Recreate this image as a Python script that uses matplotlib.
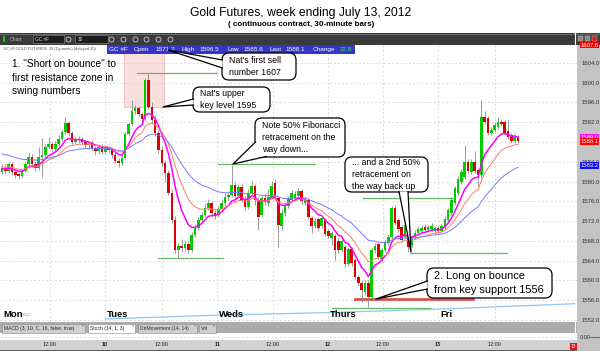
import numpy as np
import matplotlib.pyplot as plt
from matplotlib.patches import Rectangle, FancyBboxPatch, Polygon
from matplotlib.transforms import blended_transform_factory

plt.rcParams['font.family'] = ['Liberation Sans', 'DejaVu Sans']

# 30-minute bars, Mon Jul 9 -> Fri Jul 13 2012
opens = [1582.0, 1582.8, 1582.2, 1583.6, 1581.9, 1581.4, 1581.2, 1582.2, 1583.5, 1585.0,
         1583.6, 1582.8, 1585.0, 1585.3, 1587.0, 1587.6, 1586.6, 1587.5, 1588.6, 1590.0,
         1591.9, 1589.8, 1588.0, 1588.3, 1588.6, 1587.9, 1587.3, 1587.6, 1586.7, 1586.1,
         1586.9, 1586.0, 1586.8, 1586.3, 1585.4, 1584.2, 1583.8, 1584.8, 1589.6, 1591.6,
         1594.2, 1594.8, 1593.6, 1592.6, 1600.6, 1595.0, 1592.4, 1589.8, 1586.4, 1583.7,
         1581.7, 1577.7, 1572.2, 1566.1, 1567.0, 1566.6, 1567.4, 1566.2, 1569.2, 1570.6,
         1572.2, 1573.2, 1574.6, 1575.6, 1573.6, 1573.2, 1574.4, 1575.6, 1576.9, 1577.2,
         1579.3, 1577.0, 1578.8, 1576.3, 1574.8, 1577.6, 1579.0, 1576.2, 1573.2, 1576.6,
         1575.6, 1576.8, 1579.8, 1576.6, 1571.0, 1573.6, 1575.0, 1576.2, 1576.6, 1577.0,
         1578.0, 1575.6, 1576.2, 1572.6, 1571.0, 1572.4, 1571.0, 1572.2, 1570.0, 1568.6,
         1569.0, 1568.0, 1566.2, 1566.8, 1563.4, 1566.4, 1564.1, 1560.7, 1559.5, 1557.6,
         1559.5, 1556.6, 1566.1, 1567.4, 1564.4, 1566.2, 1567.6, 1568.8, 1574.6, 1572.2,
         1570.8, 1568.8, 1568.8, 1567.2, 1568.8, 1569.6, 1570.0, 1570.8, 1570.2, 1570.4,
         1570.0, 1570.6, 1570.0, 1570.6, 1572.2, 1573.6, 1575.6, 1577.6, 1580.0, 1581.0,
         1584.0, 1582.0, 1584.0, 1582.4, 1581.3, 1593.0, 1592.8, 1589.8, 1590.4, 1591.0,
         1592.0, 1592.0, 1590.2, 1589.4, 1588.2, 1589.0]
highs = [1583.5, 1583.6, 1584.0, 1584.0, 1582.3, 1581.9, 1582.5, 1583.9, 1586.0, 1585.6,
         1584.2, 1587.0, 1588.8, 1587.5, 1589.0, 1588.0, 1588.2, 1589.5, 1590.6, 1593.0,
         1592.2, 1590.2, 1588.9, 1589.2, 1589.0, 1588.3, 1588.0, 1588.4, 1587.2, 1587.3,
         1587.6, 1587.3, 1587.2, 1586.7, 1585.9, 1584.8, 1585.3, 1590.0, 1592.0, 1596.4,
         1595.5, 1595.3, 1594.0, 1601.0, 1602.0, 1596.0, 1593.4, 1590.6, 1587.2, 1584.4,
         1582.4, 1578.4, 1573.0, 1567.6, 1568.4, 1568.2, 1568.0, 1569.8, 1571.2, 1572.8,
         1573.8, 1575.6, 1576.4, 1576.0, 1574.2, 1575.0, 1576.4, 1577.6, 1578.0, 1583.4,
         1580.0, 1579.6, 1579.4, 1577.0, 1578.4, 1580.2, 1579.5, 1576.8, 1577.0, 1577.4,
         1578.4, 1580.2, 1580.6, 1577.0, 1574.4, 1575.6, 1577.0, 1578.2, 1578.0, 1578.6,
         1578.4, 1576.8, 1576.6, 1573.0, 1572.6, 1572.8, 1573.0, 1572.6, 1570.4, 1570.0,
         1569.4, 1568.6, 1568.4, 1567.2, 1566.8, 1566.8, 1564.6, 1561.2, 1560.0, 1560.0,
         1560.0, 1566.6, 1567.6, 1567.8, 1566.6, 1568.4, 1569.4, 1575.0, 1575.2, 1572.6,
         1571.2, 1571.8, 1569.4, 1569.2, 1570.2, 1571.0, 1571.2, 1571.4, 1571.2, 1571.6,
         1571.0, 1571.0, 1571.4, 1573.0, 1574.6, 1576.8, 1579.0, 1581.2, 1582.6, 1587.4,
         1584.6, 1584.6, 1586.2, 1582.8, 1596.5, 1594.2, 1593.2, 1591.0, 1592.0, 1593.0,
         1592.6, 1592.4, 1592.5, 1589.8, 1589.6, 1589.4]
lows = [1581.5, 1581.6, 1581.8, 1581.4, 1580.7, 1580.6, 1580.8, 1581.9, 1583.2, 1583.0,
        1582.2, 1582.4, 1581.0, 1584.8, 1586.5, 1586.0, 1586.2, 1587.2, 1588.2, 1589.6,
        1589.2, 1587.6, 1587.5, 1587.8, 1587.5, 1586.8, 1586.6, 1586.2, 1585.4, 1585.6,
        1585.5, 1585.6, 1585.8, 1584.8, 1583.8, 1583.0, 1583.4, 1584.5, 1589.2, 1591.2,
        1593.6, 1593.0, 1592.0, 1592.2, 1594.6, 1591.8, 1589.2, 1585.8, 1583.2, 1580.0,
        1577.2, 1571.6, 1565.5, 1564.5, 1565.8, 1566.0, 1565.6, 1565.8, 1568.8, 1570.2,
        1571.8, 1572.8, 1574.2, 1573.0, 1572.4, 1572.8, 1574.0, 1574.8, 1576.0, 1576.8,
        1576.4, 1576.6, 1575.8, 1574.2, 1574.4, 1577.2, 1575.2, 1570.2, 1572.8, 1575.2,
        1575.0, 1576.4, 1576.2, 1566.8, 1570.2, 1573.0, 1574.6, 1575.8, 1576.0, 1576.6,
        1575.4, 1575.2, 1572.4, 1569.6, 1570.6, 1570.0, 1570.6, 1569.0, 1568.6, 1567.2,
        1564.2, 1565.6, 1565.8, 1562.8, 1563.0, 1563.0, 1560.2, 1558.8, 1555.6, 1557.0,
        1554.6, 1556.2, 1565.6, 1564.4, 1563.8, 1565.8, 1567.2, 1568.4, 1571.2, 1569.8,
        1567.8, 1568.4, 1565.8, 1566.8, 1568.4, 1569.2, 1569.6, 1569.8, 1569.8, 1570.0,
        1569.4, 1569.6, 1569.6, 1570.2, 1571.8, 1573.2, 1575.2, 1577.2, 1579.6, 1580.6,
        1581.8, 1581.6, 1581.8, 1579.0, 1580.8, 1591.6, 1589.4, 1589.4, 1590.0, 1590.6,
        1591.2, 1589.4, 1588.6, 1587.8, 1587.8, 1587.8]
closes = [1582.8, 1582.2, 1583.6, 1581.9, 1581.4, 1581.2, 1582.2, 1583.5, 1585.0, 1583.6,
          1582.8, 1585.0, 1585.3, 1587.0, 1587.6, 1586.6, 1587.5, 1588.6, 1590.0, 1591.9,
          1589.8, 1588.0, 1588.3, 1588.6, 1587.9, 1587.3, 1587.6, 1586.7, 1586.1, 1586.9,
          1586.0, 1586.8, 1586.3, 1585.4, 1584.2, 1583.8, 1584.8, 1589.6, 1591.6, 1594.2,
          1594.8, 1593.6, 1592.6, 1600.6, 1595.0, 1592.4, 1589.8, 1586.4, 1583.7, 1581.7,
          1577.7, 1572.2, 1566.1, 1567.0, 1566.6, 1567.4, 1566.2, 1569.2, 1570.6, 1572.2,
          1573.2, 1574.6, 1575.6, 1573.6, 1573.2, 1574.4, 1575.6, 1576.9, 1577.2, 1579.3,
          1577.0, 1578.8, 1576.3, 1574.8, 1577.6, 1579.0, 1576.2, 1572.8, 1576.6, 1575.8,
          1576.8, 1579.0, 1577.0, 1571.2, 1573.6, 1575.2, 1576.4, 1577.6, 1577.4, 1578.0,
          1576.0, 1576.2, 1572.8, 1571.0, 1572.0, 1570.6, 1572.6, 1569.4, 1569.0, 1569.6,
          1566.2, 1566.2, 1568.0, 1563.4, 1566.4, 1563.5, 1560.7, 1559.5, 1558.1, 1559.5,
          1556.6, 1566.1, 1567.0, 1564.8, 1566.2, 1567.6, 1568.8, 1574.6, 1571.6, 1570.4,
          1568.2, 1571.2, 1566.8, 1568.8, 1569.6, 1570.4, 1570.6, 1570.2, 1570.8, 1571.0,
          1570.6, 1570.0, 1571.0, 1572.4, 1574.2, 1576.2, 1578.6, 1580.6, 1582.0, 1584.0,
          1582.2, 1584.0, 1582.2, 1581.3, 1593.0, 1592.0, 1589.8, 1590.4, 1591.4, 1592.0,
          1591.6, 1589.8, 1589.0, 1588.2, 1589.0, 1588.1]

day_names = ['Mon', 'Tues', 'Weds', 'Thurs', 'Fri']
day_starts = [-0.3, 30.9, 64.6, 97.9, 130.9]      # bar index where each session begins
date_labels = ['10', '11', '12', '13']
noon_bars = [14.4, 48.0, 81.4, 114.4, 148.0]

# moving averages (fast / medium / slow) with their starting values
ma_spans = [8, 15, 32]
ma_seeds = [1582.5, 1583.0, 1585.8]
ma_colors = ['#ff00ff', '#ff7b6b', '#7a7aff']

# lines drawn by hand on the chart: (price, first bar, last bar)
green_levels = [(1601.9, 40.5, 64.6), (1583.5, 65.0, 94.0), (1564.5, 47.0, 66.4),
                (1576.7, 108.4, 136.0), (1565.5, 122.5, 151.7), (1554.4, 99.1, 128.5)]
support_level = (1556.2, 106.0, 141.5)
resist_zone = (36.6, 48.6, 1595.0, 1608.0)

# lower study line showing through the bottom of the price pane
study_bars = [31, 65, 98, 131, 172]
study_vals = [1552.2, 1553.0, 1553.5, 1554.2, 1555.3]

# last-value tags on the price scale
tag_values = [1607.6, 1589.0, 1588.1, 1583.2]
tag_colors = ['#ff0000', '#ff00ff', '#ff0000', '#1010f0']

W, H = 600, 351
fig = plt.figure(figsize=(6, 3.51), dpi=100)


def px_axes(x0, y0, x1, y1, **kw):
    return fig.add_axes([x0 / W, 1 - y1 / H, (x1 - x0) / W, (y1 - y0) / H], **kw)


# background layer (behind the price pane)
bg = px_axes(0, 0, W, H, zorder=-5)
bg.set_xlim(0, W)
bg.set_ylim(H, 0)
bg.axis('off')
bg.add_patch(Rectangle((0, 33), W, 12, fc='#3b3b3b', ec='none'))
bg.plot([0, W], [33.5, 33.5], color='#777777', lw=0.6)
bg.add_patch(Rectangle((577, 45), 23, 306, fc='#c3c3c3', ec='none'))
bg.add_patch(Rectangle((0, 322), 577, 11, fc='#ababab', ec='none'))
bg.plot([574.5, 574.5], [33, 351], color='white', lw=0.8)

fig.text(301 / W, 1 - 13 / H, 'Gold Futures, week ending July 13, 2012',
         ha='center', va='center', fontsize=8.7)
fig.text(301 / W, 1 - 25 / H, '( continuous contract, 30-minute bars)',
         ha='center', va='center', fontsize=5.8, fontweight='bold')

# main price pane
ax = px_axes(0, 45, 577, 322)
xs = np.arange(len(closes))
o = np.array(opens)
c = np.array(closes)
up = c >= o
ax.vlines(xs, lows, highs, color='#8a8a8a', lw=0.6, zorder=3)
bottoms = np.minimum(o, c)
heights = np.maximum(np.abs(c - o), 0.25)
ax.bar(xs[up], heights[up], bottom=bottoms[up], width=0.78, color='#00cc00', zorder=4)
ax.bar(xs[~up], heights[~up], bottom=bottoms[~up], width=0.78, color='#e00000', zorder=4)

for span, seed, col in zip(ma_spans, ma_seeds, ma_colors):
    a = 2 / (span + 1)
    v = seed
    line = []
    for p in closes:
        v = v + a * (p - v)
        line.append(v)
    lw = 1.1 if col == '#ff00ff' else 0.7
    ax.plot(xs, line, color=col, lw=lw, zorder=5)

for price, b0, b1 in green_levels:
    ax.plot([b0, b1], [price, price], color='#66b866', lw=0.9, zorder=2)
ax.plot([support_level[1], support_level[2]], [support_level[0]] * 2,
        color='#d9534f', lw=2.0, zorder=2)
ax.add_patch(Rectangle((resist_zone[0], resist_zone[2]), resist_zone[1] - resist_zone[0],
                       resist_zone[3] - resist_zone[2], fc='#f7c6c6', ec='#e08a8a',
                       lw=0.6, alpha=0.55, zorder=1))
ax.plot(study_bars, study_vals, color='#8cc8f0', lw=0.9, zorder=2)

ax.set_xlim(-0.6, 172.7)
ax.set_ylim(1551.6, 1607.6)
yt = np.arange(1552, 1605, 4)
ax.set_yticks(yt)
ax.set_yticklabels([f'{v:.1f}' for v in yt])
ax.yaxis.tick_right()
ax.tick_params(axis='y', length=0, pad=3, labelsize=4.3, labelcolor='#333333')
ax.set_xticks([])
for s in ax.spines.values():
    s.set_visible(False)
for v in yt:
    ax.axhline(v, color='#cfcfcf', lw=0.5, ls=(0, (3, 3)), zorder=0)
for v in day_starts[1:] + noon_bars:
    ax.axvline(v, color='#cfcfcf', lw=0.5, ls=(0, (3, 3)), zorder=0)

for name, d in zip(day_names, day_starts):
    ax.text(d + 0.7, 1553.2, name, fontsize=6.8, fontweight='bold', va='center', zorder=6)
ax.text(6.0, 1553.0, '2012', fontsize=2.8, color='#888888', va='center')

tr = blended_transform_factory(ax.transAxes, ax.transData)
for v, col in zip(tag_values, tag_colors):
    ax.text(1.006, v, f'{v:.1f}', transform=tr, fontsize=4.2, color='white', va='center',
            ha='left', clip_on=False, zorder=8,
            bbox=dict(boxstyle='square,pad=0.15', fc=col, ec='none'))

# indicator strip and time scale
ind = px_axes(0, 333, 577, 340)
ind.set_xlim(ax.get_xlim())
ind.set_ylim(0, 1)
ind.axhline(0.5, color='#cfcfcf', lw=0.5, ls=(0, (3, 3)))
ind.set_xticks([])
ind.set_yticks([])
for s in ind.spines.values():
    s.set_visible(False)

tax = px_axes(0, 340, 577, 351)
tax.set_facecolor('#d2d2d2')
tax.set_xlim(ax.get_xlim())
tax.set_ylim(0, 1)
tax.set_xticks([])
tax.set_yticks([])
for s in tax.spines.values():
    s.set_visible(False)
tax.axhline(0.03, color='#444444', lw=1.2)
for b in noon_bars:
    tax.text(b, 0.55, '12:00', ha='center', va='center', fontsize=4.0, color='#222222')
for b, lab in zip(day_starts[1:], date_labels):
    tax.text(b, 0.55, lab, ha='center', va='center', fontsize=4.0, fontweight='bold',
             color='#222222')

# foreground layer: toolbar bits, quote strip, callouts
fg = px_axes(0, 0, W, H, zorder=10)
fg.set_xlim(0, W)
fg.set_ylim(H, 0)
fg.axis('off')

fg.add_patch(Rectangle((2.5, 36), 2, 6, fc='#22bb22', ec='none'))
fg.text(10, 39.5, 'Chart', fontsize=3.6, color='#bbbbbb', va='center')
fg.add_patch(Rectangle((33, 35), 31, 8, fc='#1c1c1c', ec='#808080', lw=0.5))
fg.text(35, 39.2, 'GC #F', fontsize=3.4, color='#dddddd', va='center')
fg.add_patch(Rectangle((75, 35), 33, 8, fc='#1c1c1c', ec='#808080', lw=0.5))
fg.text(78, 39.2, '30', fontsize=3.4, color='#dddddd', va='center')
for cx in [68, 111, 123, 135, 146, 158, 170]:
    fg.plot(cx, 39.2, 'o', ms=3.6, mfc='none', mec='#cccccc', mew=0.6)
for cx, col in [(580, '#8a8a8a'), (587, '#8a8a8a'), (594, '#cc2222')]:
    fg.add_patch(Rectangle((cx - 2.5, 35.5), 5.5, 5.5, fc=col, ec='#cccccc', lw=0.3))

fg.add_patch(Rectangle((0, 45), 107, 8.5, fc='white', ec='none'))
fg.text(3, 49.3, 'GC #F,GOLD FUTURES, 30 (Dynamic) (delayed 10)', fontsize=2.9,
        color='#555555', va='center')
fg.add_patch(Rectangle((107, 45), 248, 8.5, fc='#3535c8', ec='none'))
quote = [(109, 'GC #F'), (134, 'Open'), (155, '1571.2'), (182, 'High'), (199, '1596.5'),
         (227, 'Low'), (243, '1565.6'), (269, 'Last'), (285, '1588.1'), (313, 'Change')]
for qx, qt in quote:
    fg.text(qx, 49.3, qt, fontsize=4.6, color='white', va='center')
fg.text(340, 49.3, '22.8', fontsize=4.6, color='#33ee33', va='center')

# lower tabs
tabs = [(2, 85, 'MACD (3, 10, C, 16, false, true)', '#cfcfcf'),
        (88, 135, 'Stoch (14, 1, 3)', 'white'),
        (138, 197, 'DirMovement (14, 14)', '#cfcfcf'),
        (199, 216, 'Vol', '#cfcfcf')]
for t0, t1, lab, col in tabs:
    fg.add_patch(Rectangle((t0, 323.5), t1 - t0, 9.5, fc=col, ec='#8a8a8a', lw=0.4))
    fg.text(t0 + 2, 328.5, lab, fontsize=3.6, color='#222222', va='center')
    fg.text(t1 - 2.5, 325.5, '×', fontsize=3, color='#444444', va='center', ha='center')
fg.text(580, 337.5, '0.00', fontsize=4.0, color='#333333', va='center')
fg.plot([590, 600], [336.5, 336.5], color='#2a7fd4', lw=0.8)
fg.add_patch(Rectangle((570, 343), 7, 7, fc='#ee1111', ec='none'))
fg.text(573.5, 346.5, '13', fontsize=3.4, color='white', ha='center', va='center')

fg.text(12, 59, '1. "Short on bounce" to\nfirst resistance zone in\nswing numbers',
        fontsize=7.3, va='top', linespacing=1.45)


def callout(text, x0, y0, x1, y1, base, tip, fs=6.3):
    fg.add_patch(FancyBboxPatch((x0, y0), x1 - x0, y1 - y0,
                                boxstyle='round,pad=0,rounding_size=7',
                                fc='white', ec='black', lw=0.9, zorder=5))
    fg.add_patch(Polygon([base[0], tip, base[1]], closed=True, fc='white', ec='none',
                         zorder=6))
    fg.plot([base[0][0], tip[0], base[1][0]], [base[0][1], tip[1], base[1][1]],
            color='black', lw=0.9, zorder=7)
    fg.text(x0 + 7, (y0 + y1) / 2, text, fontsize=fs, va='center', ha='left',
            linespacing=1.45, zorder=8)


callout("Nat's first sell\nnumber 1607", 222, 53, 296, 80,
        [(222.5, 60), (222.5, 68)], (168, 50))
callout("Nat's upper\nkey level 1595", 193, 87, 270, 112,
        [(193.5, 99), (193.5, 105)], (163, 107))
callout("Note 50% Fibonacci\nretracement on the\nway down...", 255, 118, 345, 157,
        [(255.5, 142), (266, 156.5)], (233, 164))
callout("... and a 2nd 50%\nretracement on\nthe way back up", 345, 157, 428, 192,
        [(399, 191.5), (408, 191.5)], (411, 252))
callout("2. Long on bounce\nfrom key support 1556", 427, 268, 552, 298,
        [(427.5, 281), (427.5, 289)], (376, 299), fs=7.9)

fig.savefig('out.png', dpi=100)
